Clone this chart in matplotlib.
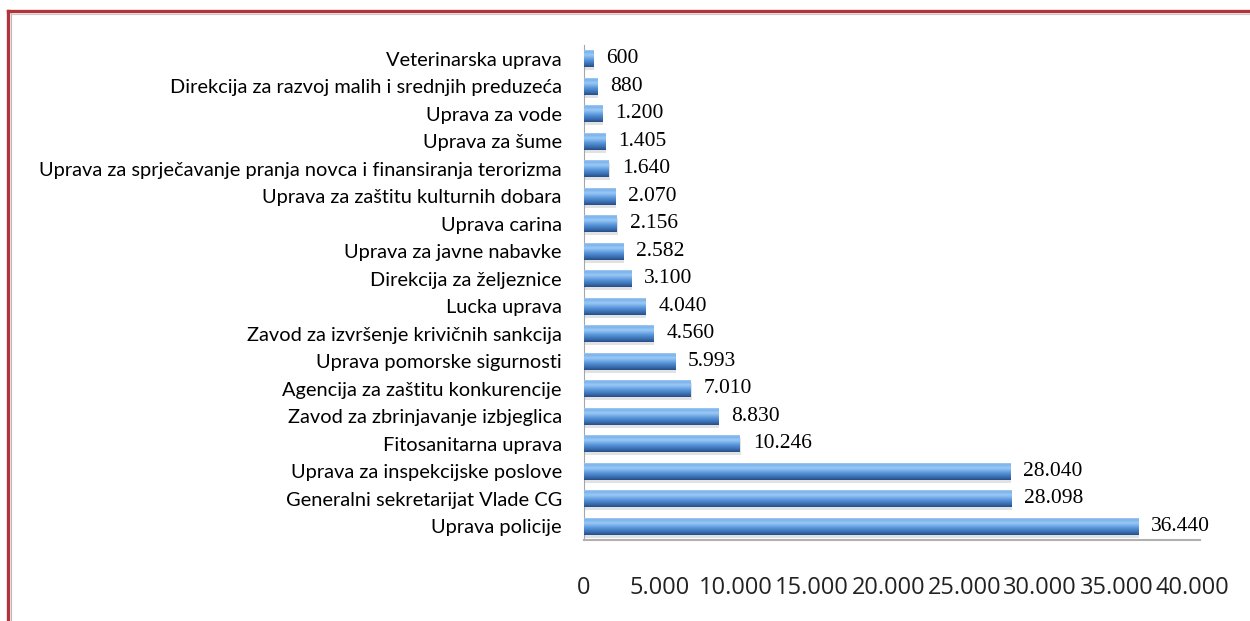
import numpy as np
import matplotlib
matplotlib.use("Agg")
from matplotlib import pyplot as plt
from matplotlib.lines import Line2D
from matplotlib.colors import LinearSegmentedColormap

# data, top to bottom as shown
labels = [
    "Veterinarska uprava",
    "Direkcija za razvoj malih i srednjih preduzeća",
    "Uprava za vode",
    "Uprava za šume",
    "Uprava za sprječavanje pranja novca i finansiranja terorizma",
    "Uprava za zaštitu kulturnih dobara",
    "Uprava carina",
    "Uprava za javne nabavke",
    "Direkcija za željeznice",
    "Lucka uprava",
    "Zavod za izvršenje krivičnih sankcija",
    "Uprava pomorske sigurnosti",
    "Agencija za zaštitu konkurencije",
    "Zavod za zbrinjavanje izbjeglica",
    "Fitosanitarna uprava",
    "Uprava za inspekcijske poslove",
    "Generalni sekretarijat Vlade CG",
    "Uprava policije",
]
values = [600, 880, 1200, 1405, 1640, 2070, 2156, 2582, 3100, 4040,
          4560, 5993, 7010, 8830, 10246, 28040, 28098, 36440]
xticks = [0, 5000, 10000, 15000, 20000, 25000, 30000, 35000, 40000]


def fmt(v):
    return f"{v:,}".replace(",", ".")


# bottom (dark) -> top (light) shading of the bars
bar_cmap = LinearSegmentedColormap.from_list("bar3d", [
    (0.00, "#244d85"),
    (0.12, "#3566a8"),
    (0.40, "#5896dc"),
    (0.68, "#9ccaf6"),
    (0.86, "#78b0ec"),
    (1.00, "#c2dcf6"),
])

fig = plt.figure(figsize=(12.5, 6.21), dpi=100)
ax = fig.add_axes([0.4672, 0.1304, 0.4928, 0.7971])

n = len(values)
ypos = np.arange(n)[::-1]
h = 0.62

# soft shadow under each bar
ax.barh(ypos - 0.1, values, height=h, left=60, color="#a0a0a0", alpha=0.3,
        zorder=1, linewidth=0)
bars = ax.barh(ypos, values, height=h, color="#4f81bd", zorder=2, linewidth=0)

grad = np.linspace(0, 1, 64).reshape(-1, 1)
for b in bars:
    x0, y0 = b.get_x(), b.get_y()
    im = ax.imshow(grad, cmap=bar_cmap, origin="lower", aspect="auto",
                   extent=(x0, x0 + b.get_width(), y0, y0 + b.get_height()),
                   zorder=3, interpolation="bicubic")
    im.set_clip_path(b)

for y, v in zip(ypos, values):
    ax.text(v + 850, y, fmt(v), va="center", ha="left", fontsize=15.5,
            family=["Liberation Serif", "DejaVu Serif"], color="black")

ax.set_xlim(0, 40500)
ax.set_ylim(-0.5, n - 0.5)

ax.set_yticks(ypos)
ax.set_yticklabels(labels, family=["Lato", "DejaVu Sans"],
                   fontsize=14.4, color="black")
ax.set_xticks(xticks)
ax.set_xticklabels([fmt(v) for v in xticks], family=["Open Sans", "DejaVu Sans"],
                   fontsize=17, color="#222222")
ax.tick_params(axis="y", length=0, pad=16)
ax.tick_params(axis="x", length=0, pad=26)

for side in ["top", "right"]:
    ax.spines[side].set_visible(False)
ax.spines["left"].set_color("#a6a6a6")
ax.spines["bottom"].set_color("#b0b0b0")
ax.spines["bottom"].set_linewidth(1.5)

# dark red frame on the top and left edges
W, H = 1250, 621
fig.add_artist(Line2D([8 / W, 1], [1 - 11 / H, 1 - 11 / H], transform=fig.transFigure,
                      color="#b3333a", lw=2.4))
fig.add_artist(Line2D([8 / W, 8 / W], [0, 1 - 11 / H], transform=fig.transFigure,
                      color="#b3333a", lw=2.4))
fig.add_artist(Line2D([10.5 / W, 10.5 / W], [0, 1 - 13 / H], transform=fig.transFigure,
                      color="#b8b8b8", lw=0.8))
fig.add_artist(Line2D([10.5 / W, 1], [1 - 13.5 / H, 1 - 13.5 / H], transform=fig.transFigure,
                      color="#c8c8c8", lw=0.8))

fig.savefig("out.png", dpi=100)
